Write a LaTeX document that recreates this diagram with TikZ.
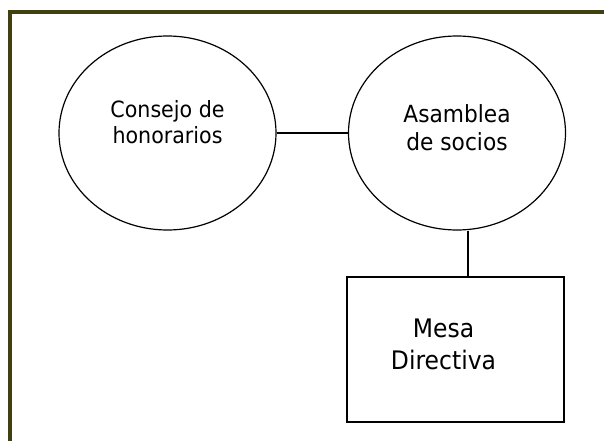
\documentclass[tikz,border=0pt]{standalone}
\usepackage{fontspec}
\setmainfont{DejaVu Sans}[FakeStretch=0.92]
\usepackage{tikz}
\usetikzlibrary{shapes,positioning}
\definecolor{marco}{RGB}{64,64,16}
\tikzset{ovalo/.style={ellipse,draw,line width=1.2pt,minimum width=217pt,minimum height=194pt,inner sep=0pt}}
\tikzset{caja/.style={rectangle,draw,line width=1.4pt,minimum width=217pt,minimum height=145pt,inner sep=0pt}}
\tikzset{texto/.style={align=center,inner sep=0pt}}

\begin{document}
\begin{tikzpicture}[x=1pt,y=-1pt]
    \useasboundingbox (0,0) rectangle (604,441);
    \draw [marco,line width=4pt] (10,441) -- (10,12) -- (604,12);

    \node[ovalo,label={[texto,font=\fontsize{22.4}{26}\selectfont,yshift=10.5pt]center:Consejo de\\honorarios}] (cons)at (167.5,133) {};
    \node[ovalo,label={[texto,font=\fontsize{23.6}{28}\selectfont,yshift=5pt]center:Asamblea\\de socios}] (asam)at (457,133) {};
    \node[caja,label={[texto,font=\fontsize{25.5}{32}\selectfont,xshift=-12pt,yshift=5pt]center:Mesa\\Directiva}] (mesa)at (455.5,349.5) {};
    \coordinate (v) at (468,0);

    \draw [line width=1.3pt] (cons) to [] (asam);
    \draw [line width=1.3pt] (asam.south -| v) to [] (mesa.north -| v);
\end{tikzpicture}
\end{document}
